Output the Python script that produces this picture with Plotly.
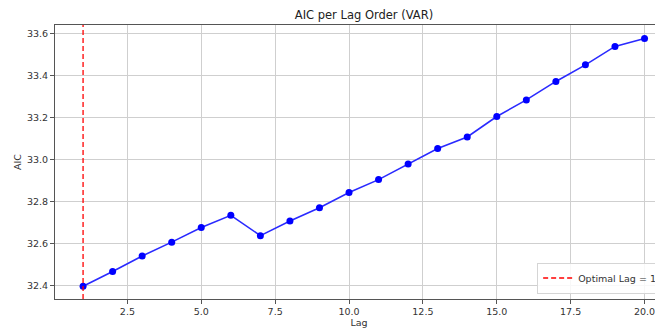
import plotly.graph_objects as go

lags = list(range(1, 21))
aic = [32.397, 32.467, 32.541, 32.607, 32.677, 32.735, 32.638, 32.708, 32.771,
       32.844, 32.905, 32.980, 33.053, 33.108, 33.206, 33.285, 33.373, 33.452,
       33.540, 33.578]
optimal_lag = 1
x_ticks = [2.5, 5.0, 7.5, 10.0, 12.5, 15.0, 17.5, 20.0]
y_ticks = [32.4, 32.6, 32.8, 33.0, 33.2, 33.4, 33.6]

font = "DejaVu Sans"
fig = go.Figure()
fig.add_trace(go.Scatter(
    x=lags, y=aic, mode="lines+markers",
    line=dict(color="#2a2aff", width=1.6),
    marker=dict(color="#0000ff", size=7),
    showlegend=False,
))
fig.add_vline(x=optimal_lag, line=dict(color="#ff0000", width=1.3, dash="5px,3px"))
fig.add_trace(go.Scatter(
    x=[None], y=[None], mode="lines",
    line=dict(color="#ff0000", width=1.3, dash="5px,3px"),
    name=f"Optimal Lag = {optimal_lag}",
))

axis_common = dict(
    showgrid=True, gridcolor="#cfcfcf", gridwidth=0.8,
    showline=True, linecolor="#555555", linewidth=1,
    ticks="outside", ticklen=4, tickcolor="#555555",
    tickfont=dict(family=font, size=9.5, color="#333333"),
    zeroline=False,
)

fig.update_layout(
    width=655, height=321,
    margin=dict(l=47, r=0, t=16.5, b=29.5, autoexpand=False),
    paper_bgcolor="white", plot_bgcolor="white",
    title=dict(text="AIC per Lag Order (VAR)", x=0.5435, xanchor="center",
               y=0.978, yanchor="middle",
               font=dict(family=font, size=11.5, color="#222222")),
    xaxis=dict(range=[0.05, 20.625], tickvals=x_ticks,
               ticktext=[f"{v:.1f}" for v in x_ticks], mirror=True,
               title=dict(text="Lag", standoff=1,
                          font=dict(family=font, size=9.5, color="#333333")),
               **axis_common),
    yaxis=dict(range=[32.336, 33.642], tickvals=y_ticks,
               ticktext=[f"{v:.1f}" for v in y_ticks],
               title=dict(text="AIC", standoff=3,
                          font=dict(family=font, size=9.5, color="#333333")),
               **axis_common),
    legend=dict(x=0.793, y=0.02, xanchor="left", yanchor="bottom",
                bgcolor="rgba(255,255,255,0.85)", bordercolor="#d5d5d5",
                borderwidth=1, font=dict(family=font, size=9.5, color="#333333"),
                itemwidth=30),
    showlegend=True,
)

fig.write_html("out.html")
